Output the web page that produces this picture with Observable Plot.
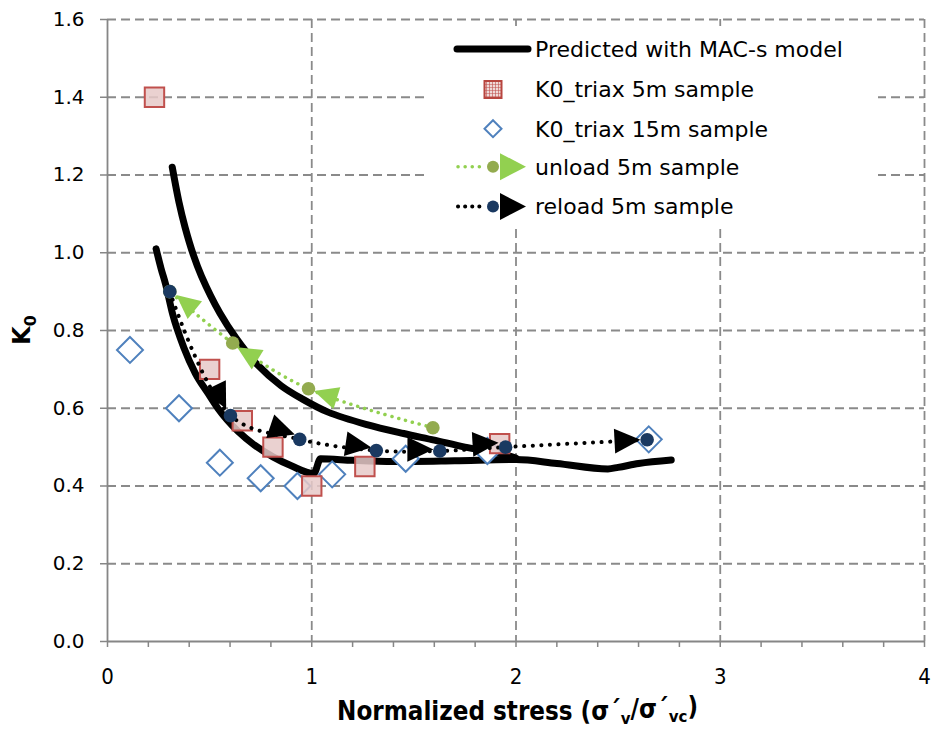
<!DOCTYPE html>
<html>
<head>
<meta charset="utf-8">
<script src="https://cdn.jsdelivr.net/npm/d3@7"></script>
<script src="https://cdn.jsdelivr.net/npm/@observablehq/plot@0.6"></script>
<style>
  html, body { margin: 0; padding: 0; background: #fff; }
  #chart { position: relative; width: 931px; height: 729px; }
  #legend { position: absolute; left: 0; top: 0; }
</style>
</head>
<body>
<div id="chart"></div>
<script>
// ---------------- data ----------------
const seriesNames = ["Predicted with MAC-s model", "K0_triax 5m sample", "K0_triax 15m sample", "unload 5m sample", "reload 5m sample"];

const modelUpperX = [0.317, 0.35, 0.38, 0.42, 0.46, 0.55, 0.63, 0.73, 0.85, 0.95, 1.08, 1.27, 1.45, 1.60, 1.75, 1.92, 2.00];
const modelUpperY = [1.22, 1.13, 1.065, 0.995, 0.94, 0.845, 0.78, 0.714, 0.658, 0.625, 0.59, 0.558, 0.535, 0.518, 0.50, 0.484, 0.472];

const modelLowerX = [0.238, 0.262, 0.284, 0.32, 0.373, 0.43, 0.49, 0.54, 0.64, 0.72, 0.81, 0.90, 1.01, 1.043, 1.20, 1.40, 1.70, 2.00, 2.20, 2.45, 2.50, 2.60, 2.76];
const modelLowerY = [1.01, 0.96, 0.92, 0.84, 0.757, 0.69, 0.64, 0.60, 0.54, 0.505, 0.475, 0.452, 0.432, 0.47, 0.466, 0.463, 0.465, 0.468, 0.458, 0.444, 0.448, 0.458, 0.467];

const triax5mX = [0.23, 0.50, 0.66, 0.81, 1.00, 1.26, 1.92];
const triax5mY = [1.40, 0.70, 0.568, 0.50, 0.40, 0.45, 0.509];

const triax15mX = [0.11, 0.35, 0.55, 0.75, 0.93, 1.10, 1.46, 1.86, 2.65];
const triax15mY = [0.75, 0.60, 0.46, 0.42, 0.40, 0.43, 0.47, 0.49, 0.52];

// unloading path, in travel order (high stress -> low stress)
const unloadX = [1.593, 0.984, 0.613, 0.305];
const unloadY = [0.55, 0.65, 0.768, 0.90];
const unloadArrowX = [1.067, 0.685, 0.382];
const unloadArrowY = [0.635, 0.741, 0.872];

// reloading path, in travel order
const reloadX = [0.305, 0.602, 0.941, 1.316, 1.627, 1.949, 2.642];
const reloadY = [0.90, 0.581, 0.52, 0.491, 0.49, 0.50, 0.519];
const reloadArrowX = [0.553, 0.857, 1.229, 1.532, 1.851, 2.546];
const reloadArrowY = [0.628, 0.543, 0.504, 0.494, 0.509, 0.517];

const xTickValues = [0, 1, 2, 3, 4];
const xMinorTickValues = [0, 0.2, 0.4, 0.6, 0.8, 1, 1.2, 1.4, 1.6, 1.8, 2, 2.2, 2.4, 2.6, 2.8, 3, 3.2, 3.4, 3.6, 3.8, 4];
const yTickValues = [0, 0.2, 0.4, 0.6, 0.8, 1.0, 1.2, 1.4, 1.6];

// ---------------- layout ----------------
const W = 931, H = 729, mL = 107, mR = 7, mT = 19, mB = 88;
const xDomain = [0, 4], yDomain = [0, 1.6];
const kx = (W - mL - mR) / (xDomain[1] - xDomain[0]);
const ky = (H - mT - mB) / (yDomain[1] - yDomain[0]);

const toPts = (xs, ys) => xs.map((x, i) => ({x, y: ys[i]}));
const segAngle = (xs, ys, i) => Math.atan2(-(ys[i + 1] - ys[i]) * ky, (xs[i + 1] - xs[i]) * kx) * 180 / Math.PI;
const arrowPts = (ax, ay, px, py) => ax.map((x, i) => ({x, y: ay[i], angle: segAngle(px, py, i)}));

const modelUpper = toPts(modelUpperX, modelUpperY);
const modelLower = toPts(modelLowerX, modelLowerY);
const triax5m = toPts(triax5mX, triax5mY);
const triax15m = toPts(triax15mX, triax15mY);
const unload = toPts(unloadX, unloadY);
const reload = toPts(reloadX, reloadY);
const unloadArrows = arrowPts(unloadArrowX, unloadArrowY, unloadX, unloadY);
const reloadArrows = arrowPts(reloadArrowX, reloadArrowY, reloadX, reloadY);

// custom symbols (size = r*r*PI, so s = r)
const squareSym = {draw(c, size) { const s = Math.sqrt(size / Math.PI); c.moveTo(-s, -s); c.lineTo(s, -s); c.lineTo(s, s); c.lineTo(-s, s); c.closePath(); }};
const diamondSym = {draw(c, size) { const s = Math.sqrt(size / Math.PI); c.moveTo(0, -s); c.lineTo(s, 0); c.lineTo(0, s); c.lineTo(-s, 0); c.closePath(); }};
const triSym = {draw(c, size) { const s = Math.sqrt(size / Math.PI); c.moveTo(s, 0); c.lineTo(-s, -s * 0.95); c.lineTo(-s, s * 0.95); c.closePath(); }};

const axisGrey = "#868686";
const gridGrey = "#8a8a8a";
const narrowFont = "'Liberation Sans Narrow', 'DejaVu Sans Condensed', 'Liberation Sans', sans-serif";
const navy = "#1a3961", olive = "#93ab4f", lime = "#92d050";

const plot = Plot.plot({
  width: W, height: H,
  marginLeft: mL, marginRight: mR, marginTop: mT, marginBottom: mB,
  x: {domain: xDomain},
  y: {domain: yDomain},
  style: {fontFamily: "'DejaVu Sans', sans-serif", fontSize: "20px", color: "#000", background: "#fff", overflow: "visible"},
  marks: [
    Plot.gridY(yTickValues.filter(d => d > 0), {stroke: gridGrey, strokeOpacity: 1, strokeWidth: 1.8, strokeDasharray: "9,5"}),
    Plot.gridX(xTickValues.filter(d => d > 0), {stroke: gridGrey, strokeOpacity: 1, strokeWidth: 1.8, strokeDasharray: "9,5"}),
    Plot.axisY(yTickValues, {tickSize: 7, tickPadding: 16, tickFormat: d => d.toFixed(1), label: null, stroke: axisGrey, strokeWidth: 1.5, fontSize: 20}),
    Plot.axisX(xMinorTickValues, {tickSize: 6, tickPadding: 21, tickFormat: d => xTickValues.includes(d) ? String(d) : "", label: null, stroke: axisGrey, strokeWidth: 1.5, fontSize: 22, fontFamily: narrowFont}),
    Plot.ruleY([0], {stroke: axisGrey, strokeWidth: 1.8}),
    Plot.ruleX([0], {stroke: axisGrey, strokeWidth: 1.8}),
    // model
    Plot.line(modelUpper, {x: "x", y: "y", stroke: "#000", strokeWidth: 7, curve: "catmull-rom", strokeLinecap: "round", strokeLinejoin: "round"}),
    Plot.line(modelLower, {x: "x", y: "y", stroke: "#000", strokeWidth: 7, curve: "monotone-x", strokeLinecap: "round", strokeLinejoin: "round"}),
    // triax samples
    Plot.dot(triax15m, {x: "x", y: "y", r: 13, symbol: diamondSym, fill: "#fff", stroke: "#4f81bd", strokeWidth: 2}),
    Plot.dot(triax5m, {x: "x", y: "y", r: 9.7, symbol: squareSym, fill: "#e6c9c8", fillOpacity: 0.85, stroke: "#c0504d", strokeWidth: 2}),
    // unload
    Plot.line(unload, {x: "x", y: "y", stroke: lime, strokeWidth: 3.5, strokeDasharray: "0.1,7", strokeLinecap: "round", curve: "catmull-rom"}),
    Plot.dot(unloadArrows, {x: "x", y: "y", r: 12, symbol: triSym, rotate: "angle", fill: lime, stroke: "none"}),
    Plot.dot(unload, {x: "x", y: "y", r: 6.8, fill: olive, stroke: "none"}),
    // reload
    Plot.line(reload, {x: "x", y: "y", stroke: "#000", strokeWidth: 4, strokeDasharray: "0.1,8.5", strokeLinecap: "round", curve: "catmull-rom"}),
    Plot.dot(reloadArrows, {x: "x", y: "y", r: 13, symbol: triSym, rotate: "angle", fill: "#000", stroke: "none"}),
    Plot.dot(reload, {x: "x", y: "y", r: 6.8, fill: navy, stroke: "none"})
  ]
});

const chart = document.getElementById("chart");
chart.appendChild(plot);

// axis titles
const svg = d3.select(plot);
const xt = svg.append("text")
  .attr("x", mL + (W - mL - mR) / 2 + 2).attr("y", 720)
  .attr("text-anchor", "middle")
  .attr("font-family", narrowFont).attr("font-weight", "bold")
  .attr("fill", "#000");
xt.append("tspan").text("Normalized stress (σ´");
xt.append("tspan").attr("class", "sub").attr("dy", "0.25em").text("v");
xt.append("tspan").attr("dy", "-0.25em").text("/σ´");
xt.append("tspan").attr("class", "sub").attr("dy", "0.25em").text("vc");
xt.append("tspan").attr("dy", "-0.25em").text(")");
// fit the title to the reference width (~361px)
let fs = 26;
xt.attr("font-size", fs); xt.selectAll(".sub").attr("font-size", fs * 0.65);
const w0 = xt.node().getComputedTextLength();
fs = fs * 361 / w0;
xt.attr("font-size", fs); xt.selectAll(".sub").attr("font-size", fs * 0.65);

const yt = svg.append("text")
  .attr("transform", `translate(30, ${mT + (H - mT - mB) / 2}) rotate(-90)`)
  .attr("text-anchor", "middle")
  .attr("font-family", "'DejaVu Sans', sans-serif").attr("font-weight", "bold").attr("font-size", 24)
  .attr("fill", "#000");
yt.append("tspan").text("K");
yt.append("tspan").attr("dy", 6).attr("font-size", 16).text("0");

// legend (overlay inside the plot area, white box)
const lg = d3.select(chart).append("svg").attr("id", "legend").attr("width", W).attr("height", H)
  .style("pointer-events", "none");
lg.append("rect").attr("x", 428).attr("y", 26).attr("width", 450).attr("height", 198).attr("fill", "#fff");
const defs = lg.append("defs");
const pat = defs.append("pattern").attr("id", "sqpat").attr("patternUnits", "userSpaceOnUse").attr("width", 3).attr("height", 3);
pat.append("rect").attr("width", 3).attr("height", 3).attr("fill", "#efd9d8");
pat.append("path").attr("d", "M0,0H3M0,0V3").attr("stroke", "#c0504d").attr("stroke-width", 1.2);

const rowY = [49, 89.5, 128.7, 166.7, 206.5];
const textX = 535, symX = 493;
rowY.forEach((y, i) => {
  lg.append("text").attr("x", textX).attr("y", y).attr("dy", "0.36em")
    .attr("font-family", "'DejaVu Sans', sans-serif").attr("font-size", 22).attr("fill", "#000")
    .text(seriesNames[i]);
});
// row 0: model line
lg.append("line").attr("x1", 457).attr("x2", 528).attr("y1", rowY[0]).attr("y2", rowY[0])
  .attr("stroke", "#000").attr("stroke-width", 7).attr("stroke-linecap", "round");
// row 1: square
lg.append("rect").attr("x", symX - 8.5).attr("y", rowY[1] - 8.5).attr("width", 17).attr("height", 17)
  .attr("fill", "url(#sqpat)").attr("stroke", "#b8453f").attr("stroke-width", 2);
// row 2: diamond
lg.append("path").attr("d", `M${symX},${rowY[2] - 8.5}L${symX + 8.5},${rowY[2]}L${symX},${rowY[2] + 8.5}L${symX - 8.5},${rowY[2]}Z`)
  .attr("fill", "#fff").attr("stroke", "#4f81bd").attr("stroke-width", 2);
// rows 3,4: dotted line + dot + arrow
[[3, lime, olive, lime, 3.5], [4, "#000", navy, "#000", 4]].forEach(([i, lc, dc, ac, lw]) => {
  const y = rowY[i];
  lg.append("line").attr("x1", 458).attr("x2", 486).attr("y1", y).attr("y2", y)
    .attr("stroke", lc).attr("stroke-width", lw).attr("stroke-dasharray", "0.1,7").attr("stroke-linecap", "round");
  lg.append("path").attr("d", `M500,${y - 13.5}L526,${y}L500,${y + 13.5}Z`).attr("fill", ac);
  lg.append("circle").attr("cx", symX).attr("cy", y).attr("r", 6).attr("fill", dc);
});
</script>
</body>
</html>
